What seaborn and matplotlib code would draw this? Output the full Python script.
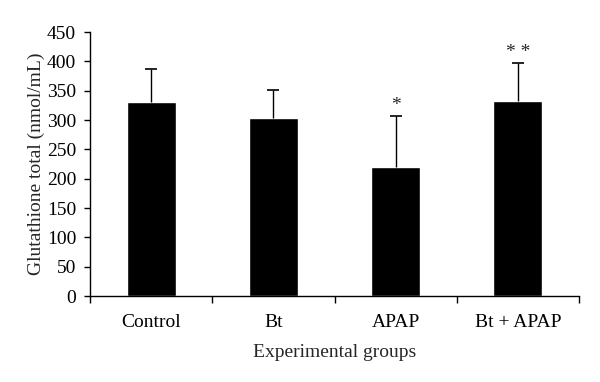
import matplotlib
matplotlib.use("Agg")
import matplotlib.pyplot as plt
import seaborn as sns
import numpy as np
from matplotlib.ticker import FixedLocator

# Data
groups = ["Control", "Bt", "APAP", "Bt + APAP"]
means = [331, 303, 220, 333]
errors = [56, 49, 87, 64]
marks = ["", "", "*", "* *"]

sns.set_theme(style="white")
plt.rcParams['font.family'] = ['Liberation Serif', 'DejaVu Serif']

fig = plt.figure(figsize=(6, 3.82), dpi=100)
ax = fig.add_axes([0.15, 0.225, 0.815, 0.691])

sns.barplot(x=groups, y=means, color="black", width=0.4, errorbar=None,
            saturation=1, ax=ax)

# upper-only error bars with a cap at the top
xpos = np.arange(len(groups))
tops = np.array(means) + np.array(errors)
ax.vlines(xpos, means, tops, color="black", linewidth=1)
ax.plot(xpos, tops, linestyle="none", marker="_", markersize=8,
        markeredgewidth=1.2, color="black")

for x, t, s in zip(xpos, tops, marks):
    if s:
        ax.text(x, t + 4, s, ha="center", va="bottom", fontsize=14)

ax.set_ylim(0, 450)
ax.set_yticks(np.arange(0, 451, 50))
ax.set_xlim(-0.5, len(groups) - 0.5)
ax.set_xlabel("Experimental groups", fontsize=14, labelpad=9)
ax.set_ylabel("Glutathione total (nmol/mL)", fontsize=14, labelpad=1)

sns.despine(ax=ax)
ax.spines['left'].set_color('black')
ax.spines['bottom'].set_color('black')
ax.spines['left'].set_linewidth(1)
ax.spines['bottom'].set_linewidth(1)

ax.tick_params(axis='y', which='major', direction='out', length=4, width=1,
               color='black', labelsize=14, left=True, labelcolor='black',
               pad=6)
ax.tick_params(axis='x', which='major', length=0, labelsize=14, pad=13,
               labelcolor='black')
ax.xaxis.set_minor_locator(FixedLocator(np.arange(-0.5, len(groups), 1)))
ax.tick_params(axis='x', which='minor', direction='out', length=5, width=1,
               color='black', bottom=True)

fig.savefig("out.png", dpi=100)
